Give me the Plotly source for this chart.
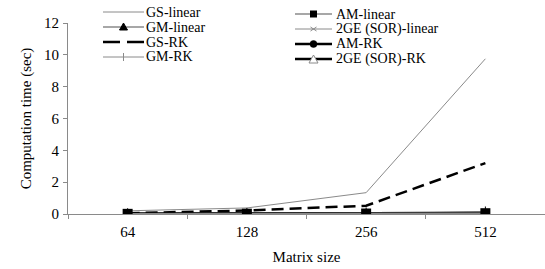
import plotly.graph_objects as go

categories = ["64", "128", "256", "512"]
gs_linear = [0.2, 0.38, 1.34, 9.75]
gm_linear = [0.01, 0.02, 0.05, 0.10]
gs_rk = [0.05, 0.22, 0.52, 3.2]
gm_rk = [0.01, 0.03, 0.06, 0.12]
am_linear = [0.01, 0.02, 0.03, 0.05]
sor_linear = [0.01, 0.02, 0.04, 0.08]
am_rk = [0.01, 0.02, 0.04, 0.07]
sor_rk = [0.01, 0.02, 0.03, 0.06]

GRAY = "#8a8a8a"
FONT = "Liberation Serif, Times New Roman, serif"
FS = 15
LFS = 14

W, H = 545, 269
ML, MR, MT, MB = 68, 0, 23, 55
PW, PH = W - ML - MR, H - MT - MB

fig = go.Figure()

def add(name, y, color, width, dash, symbol=None, msize=8, mcolor="black", mline=0):
    mode = "lines+markers" if symbol else "lines"
    marker = dict(symbol=symbol, size=msize, color=mcolor,
                  line=dict(color="black", width=mline)) if symbol else None
    fig.add_trace(go.Scatter(x=categories, y=y, name=name, mode=mode,
                             line=dict(color=color, width=width, dash=dash),
                             marker=marker, showlegend=False))

add("GS-linear", gs_linear, GRAY, 1, "solid")
add("GM-linear", gm_linear, GRAY, 1.3, "solid", "triangle-up", 8)
add("GS-RK", gs_rk, "black", 2.5, "12px,6px")
add("GM-RK", gm_rk, GRAY, 1, "solid", "line-ns-open", 8, mline=1)
add("2GE (SOR)-linear", sor_linear, GRAY, 1, "solid", "x-thin-open", 6, mline=1)
add("AM-RK", am_rk, "black", 2.5, "solid", "circle", 8)
add("2GE (SOR)-RK", sor_rk, "black", 2.5, "solid", "triangle-up-open", 8, mcolor="white", mline=1)
add("AM-linear", am_linear, GRAY, 1.5, "solid", "square", 10)

# ---- manual legend (pixel helpers -> paper coords) ----
def px(x):
    return (x - ML) / PW

def py(y):
    return (H - MB - y) / PH

shapes = []
annotations = []

def key_line(x0, x1, y, color, width, dash="solid"):
    shapes.append(dict(type="line", xref="paper", yref="paper", x0=px(x0), x1=px(x1),
                       y0=py(y), y1=py(y), line=dict(color=color, width=width, dash=dash)))

def key_text(x, y, text):
    annotations.append(dict(x=px(x), y=py(y), xref="paper", yref="paper", text=text,
                            showarrow=False, xanchor="left", yanchor="middle", borderpad=0,
                            font=dict(family=FONT, size=LFS, color="black")))

def key_path(path_pts, fill, line_color, lw=1, closed=True):
    d = "M " + " L ".join(f"{px(a)},{py(b)}" for a, b in path_pts) + (" Z" if closed else "")
    shapes.append(dict(type="path", xref="paper", yref="paper", path=d,
                       fillcolor=fill, line=dict(color=line_color, width=lw)))

def key_circle(cx, cy, r, fill):
    shapes.append(dict(type="circle", xref="paper", yref="paper",
                       x0=px(cx - r), x1=px(cx + r), y0=py(cy + r), y1=py(cy - r),
                       fillcolor=fill, line=dict(color="black", width=0.5)))

L0, L1, LT = 103, 144, 145
R0, R1, RT = 295, 332, 335
lc, rc = (L0 + L1) / 2, (R0 + R1) / 2
LY = [12, 27, 42, 57]
RY = [14, 29, 44, 59]

key_line(L0, L1, LY[0], GRAY, 1)
key_text(LT, LY[0], "GS-linear")

key_line(L0, L1, LY[1], GRAY, 1.3)
key_path([(lc - 4, LY[1] + 3), (lc + 4, LY[1] + 3), (lc, LY[1] - 4)], "black", "black")
key_text(LT, LY[1], "GM-linear")

key_line(L0, L1, LY[2], "black", 2.5, "17px,7px")
key_text(LT, LY[2], "GS-RK")

key_line(L0, L1, LY[3], GRAY, 1)
key_path([(lc, LY[3] - 4), (lc, LY[3] + 4)], "rgba(0,0,0,0)", GRAY, 1, closed=False)
key_text(LT, LY[3], "GM-RK")

key_line(R0, R1, RY[0], GRAY, 1.3)
shapes.append(dict(type="rect", xref="paper", yref="paper", x0=px(rc - 3.5), x1=px(rc + 3.5),
                   y0=py(RY[0] + 3.5), y1=py(RY[0] - 3.5), fillcolor="black",
                   line=dict(color="black", width=0)))
key_text(RT, RY[0], "AM-linear")

key_line(R0, R1, RY[1], GRAY, 1)
key_path([(rc - 3, RY[1] - 2), (rc + 3, RY[1] + 2)], "rgba(0,0,0,0)", GRAY, 1, closed=False)
key_path([(rc - 3, RY[1] + 2), (rc + 3, RY[1] - 2)], "rgba(0,0,0,0)", GRAY, 1, closed=False)
key_text(RT, RY[1], "2GE (SOR)-linear")

key_line(R0, R1, RY[2], "black", 2.5)
key_circle(rc, RY[2], 3.5, "black")
key_text(RT, RY[2], "AM-RK")

key_line(R0, R1, RY[3], "black", 2.5)
key_path([(rc - 4.5, RY[3] + 4), (rc + 4.5, RY[3] + 4), (rc, RY[3] - 4)], "white", GRAY, 1)
key_text(RT, RY[3], "2GE (SOR)-RK")

fig.update_layout(
    width=W, height=H,
    margin=dict(l=ML, r=MR, t=MT, b=MB, autoexpand=False),
    paper_bgcolor="white", plot_bgcolor="white",
    font=dict(family=FONT, size=FS, color="black"),
    showlegend=False,
    shapes=shapes,
    annotations=annotations,
    xaxis=dict(type="category", range=[-0.5, 3.5], showline=True, linecolor=GRAY, linewidth=1,
               ticks="outside", tickson="boundaries", ticklen=4, tickcolor=GRAY,
               showgrid=False, zeroline=False, ticklabelstandoff=4,
               title=dict(text="Matrix size", font=dict(family=FONT, size=FS), standoff=12),
               tickfont=dict(family=FONT, size=FS)),
    yaxis=dict(range=[0, 12], dtick=2, showline=True, linecolor=GRAY, linewidth=1,
               ticks="outside", ticklen=4, tickcolor=GRAY, showgrid=False, zeroline=False,
               ticklabelstandoff=1,
               title=dict(text="Computation time (sec)", font=dict(family=FONT, size=FS), standoff=8),
               tickfont=dict(family=FONT, size=FS)),
)

fig.write_html("out.html", config={"displayModeBar": False},
               post_script="document.body.style.margin='0';")
